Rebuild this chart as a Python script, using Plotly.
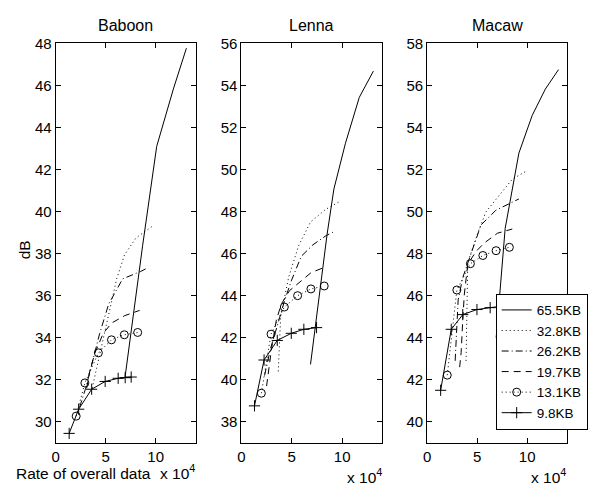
import plotly.graph_objects as go

# ---------------- data (rate in units of 1e4, PSNR in dB) ----------------
SERIES = ["65.5KB", "32.8KB", "26.2KB", "19.7KB", "13.1KB", "9.8KB"]

# Baboon
bab_x_655 = [6.93, 8.7, 10.1, 11.76, 13.07]
bab_y_655 = [32.1, 38.4, 43.1, 45.82, 47.77]
bab_x_328 = [3.65, 4.45, 5.35, 6.1, 6.89, 8.04, 9.84]
bab_y_328 = [31.6, 33.3, 35.2, 36.8, 37.95, 38.75, 39.36]
bab_x_262 = [2.4, 3.0, 3.6, 4.4, 5.3, 6.7, 8.5, 9.1]
bab_y_262 = [30.7, 31.6, 32.7, 34.2, 35.6, 36.8, 37.15, 37.3]
bab_x_197 = [3.1, 3.45, 3.95, 4.75, 5.6, 6.9, 8.4]
bab_y_197 = [31.6, 32.5, 33.3, 34.2, 34.7, 35.05, 35.3]
bab_x_131 = [2.05, 2.92, 4.27, 5.58, 6.86, 8.2]
bab_y_131 = [30.27, 31.85, 33.28, 33.9, 34.14, 34.25]
bab_x_98 = [1.35, 2.3, 3.6, 4.95, 6.25, 6.95, 7.55]
bab_y_98 = [29.45, 30.6, 31.55, 31.92, 32.07, 32.1, 32.13]

# Lenna
len_x_655 = [6.86, 7.7, 8.5, 9.18, 10.33, 11.7, 13.1]
len_y_655 = [40.73, 43.8, 46.9, 49.07, 51.25, 53.43, 54.68]
len_x_328 = [3.66, 3.9, 4.7, 5.7, 6.86, 8.35, 9.83]
len_y_328 = [40.4, 43.0, 44.9, 46.4, 47.5, 48.1, 48.5]
len_x_262 = [2.3, 2.9, 3.63, 4.29, 4.95, 5.94, 7.1, 8.42, 9.18]
len_y_262 = [40.2, 41.5, 42.68, 43.77, 44.7, 45.87, 46.42, 46.86, 47.04]
len_x_197 = [2.5, 3.0, 3.47, 3.96, 4.78, 5.77, 6.93, 8.42]
len_y_197 = [39.7, 41.5, 42.84, 43.6, 44.24, 44.63, 45.1, 45.38]
len_x_131 = [1.98, 2.94, 4.26, 5.58, 6.9, 8.22]
len_y_131 = [39.36, 42.17, 43.46, 44.0, 44.32, 44.46]
len_x_98 = [1.3, 2.25, 3.56, 4.95, 6.2, 7.46]
len_y_98 = [38.76, 40.94, 41.87, 42.21, 42.4, 42.48]

# Macaw
mac_x_655 = [6.9, 7.8, 9.17, 10.5, 11.81, 13.13]
mac_y_655 = [44.0, 49.2, 52.78, 54.57, 55.82, 56.75]
mac_x_328 = [3.89, 4.06, 4.39, 5.11, 5.87, 7.03, 8.51, 9.93]
mac_y_328 = [42.9, 47.6, 48.03, 49.04, 49.98, 50.68, 51.54, 51.93]
mac_x_262 = [2.8, 2.95, 3.1, 3.56, 4.5, 5.38, 6.86, 8.35, 9.17]
mac_y_262 = [42.9, 44.4, 45.8, 46.86, 48.15, 49.36, 50.06, 50.42, 50.6]
mac_x_197 = [3.25, 3.4, 3.56, 3.72, 4.06, 4.88, 5.7, 7.03, 8.51]
mac_y_197 = [42.6, 43.3, 44.84, 46.08, 47.49, 48.1, 48.5, 48.97, 49.17]
mac_x_131 = [2.01, 2.97, 4.32, 5.57, 6.89, 8.22]
mac_y_131 = [42.22, 46.27, 47.52, 47.91, 48.14, 48.3]
mac_x_98 = [1.35, 2.41, 3.56, 4.98, 6.3, 7.5]
mac_y_98 = [41.5, 44.4, 45.1, 45.34, 45.43, 45.5]

TITLES = ["Baboon", "Lenna", "Macaw"]
Y_RANGES = [[29, 48], [37, 56], [39, 58]]
Y_TICKS = [list(range(30, 49, 2)), list(range(38, 57, 2)), list(range(40, 59, 2))]
X_TICKS = [0, 5, 10]

panels = [
    [(bab_x_655, bab_y_655), (bab_x_328, bab_y_328), (bab_x_262, bab_y_262),
     (bab_x_197, bab_y_197), (bab_x_131, bab_y_131), (bab_x_98, bab_y_98)],
    [(len_x_655, len_y_655), (len_x_328, len_y_328), (len_x_262, len_y_262),
     (len_x_197, len_y_197), (len_x_131, len_y_131), (len_x_98, len_y_98)],
    [(mac_x_655, mac_y_655), (mac_x_328, mac_y_328), (mac_x_262, mac_y_262),
     (mac_x_197, mac_y_197), (mac_x_131, mac_y_131), (mac_x_98, mac_y_98)],
]

# ---------------- styles ----------------
W, H = 597, 488
FONT = "Liberation Sans, Arial, Helvetica, sans-serif"
TICK_SIZE = 15
LABEL_SIZE = 15.5
TITLE_SIZE = 16
styles = [
    dict(mode="lines", line=dict(color="black", width=1, dash="solid")),
    dict(mode="lines", line=dict(color="black", width=1, dash="1px,3px")),
    dict(mode="lines", line=dict(color="black", width=1, dash="7px,3px,1px,3px")),
    dict(mode="lines", line=dict(color="black", width=1, dash="7px,5px")),
    dict(mode="lines+markers", line=dict(color="black", width=1, dash="1px,3px"),
         marker=dict(symbol="circle-open", size=8, color="black", line=dict(width=1))),
    dict(mode="lines+markers", line=dict(color="black", width=1, dash="solid"),
         marker=dict(symbol="cross-thin-open", size=8, color="black", line=dict(width=1, color="black"))),
]

x_px = [(52, 193), (239, 381), (426, 567)]
y_px = (35, 442)
ydom = [1 - y_px[1] / H, 1 - y_px[0] / H]

fig = go.Figure()
for p, series in enumerate(panels):
    xa = "x" if p == 0 else f"x{p+1}"
    ya = "y" if p == 0 else f"y{p+1}"
    for s, (xs, ys) in enumerate(series):
        fig.add_trace(go.Scatter(x=xs, y=ys, name=SERIES[s], xaxis=xa, yaxis=ya,
                                 showlegend=(p == 2), **styles[s]))

axis_common = dict(showline=True, linecolor="black", linewidth=1, mirror="ticks",
                   ticks="inside", ticklen=5, tickcolor="black", showgrid=False,
                   zeroline=False, tickfont=dict(family=FONT, size=TICK_SIZE, color="black"))

layout = dict(width=W, height=H, margin=dict(l=0, r=0, t=0, b=0),
              paper_bgcolor="white", plot_bgcolor="white",
              font=dict(family=FONT, size=TICK_SIZE, color="black"))
annotations = []
for p in range(3):
    sx = "" if p == 0 else str(p + 1)
    layout["xaxis" + sx] = dict(axis_common, domain=[x_px[p][0] / W, x_px[p][1] / W],
                                range=[0, 14], tickvals=X_TICKS,
                                anchor="y" + sx)
    layout["yaxis" + sx] = dict(axis_common, domain=ydom, range=Y_RANGES[p],
                                tickvals=Y_TICKS[p], anchor="x" + sx)
    cx = (x_px[p][0] + x_px[p][1]) / 2 / W
    annotations.append(dict(text=TITLES[p], x=cx, y=1 - 17 / H, xref="paper", yref="paper",
                            showarrow=False, font=dict(family=FONT, size=TITLE_SIZE),
                            xanchor="center", yanchor="middle"))
    ex_y = 472 if p == 0 else 476
    annotations.append(dict(text="x 10<sup>4</sup>", x=x_px[p][1] / W + 0.002, y=1 - ex_y / H,
                            xref="paper", yref="paper", showarrow=False,
                            font=dict(family=FONT, size=LABEL_SIZE),
                            xanchor="right", yanchor="middle"))

annotations.append(dict(text="Rate of overall data", x=80 / W, y=1 - 473 / H, xref="paper",
                        yref="paper", showarrow=False, font=dict(family=FONT, size=LABEL_SIZE),
                        xanchor="center", yanchor="middle"))
annotations.append(dict(text="dB", x=21 / W, y=1 - 245 / H, xref="paper", yref="paper",
                        showarrow=False, textangle=-90, font=dict(family=FONT, size=LABEL_SIZE),
                        xanchor="center", yanchor="middle"))
layout["annotations"] = annotations
layout["legend"] = dict(x=495 / W, y=1 - 290 / H, xanchor="left", yanchor="top",
                        bgcolor="white", bordercolor="black", borderwidth=1,
                        font=dict(family=FONT, size=13.5, color="black"),
                        itemwidth=30, tracegroupgap=0)
fig.update_layout(**layout)
fig.write_html("out.html")
